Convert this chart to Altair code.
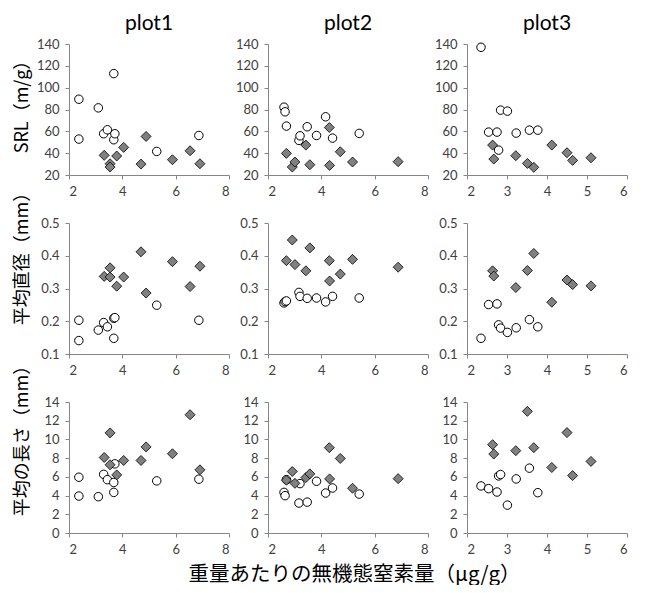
import altair as alt
import pandas as pd

# ---------------- data ----------------
# plot1
p1_open_x = [2.37, 2.37, 3.10, 3.30, 3.44, 3.68, 3.68, 3.72, 5.29, 6.87]
p1_open_srl = [89.4, 52.9, 81.5, 57.8, 61.4, 112.9, 52.3, 57.8, 41.6, 56.2]
p1_open_diam = [0.203, 0.141, 0.173, 0.196, 0.183, 0.209, 0.148, 0.211, 0.249, 0.203]
p1_open_len = [5.96, 3.95, 3.88, 6.27, 5.70, 5.40, 4.34, 7.39, 5.57, 5.75]
p1_fill_x = [3.32, 3.54, 3.54, 3.79, 4.05, 4.70, 4.89, 5.88, 6.54, 6.91]
p1_fill_srl = [38.0, 30.3, 27.3, 37.4, 45.3, 30.0, 55.3, 34.0, 42.2, 30.3]
p1_fill_diam = [0.337, 0.363, 0.335, 0.307, 0.335, 0.412, 0.286, 0.382, 0.306, 0.368]
p1_fill_len = [8.07, 10.70, 7.29, 6.21, 7.75, 7.75, 9.20, 8.47, 12.64, 6.75]

# plot2
p2_open_x = [2.60, 2.64, 2.69, 3.16, 3.20, 3.47, 3.82, 4.16, 4.42, 5.42]
p2_open_srl = [82.1, 77.9, 64.8, 51.7, 55.9, 64.2, 56.2, 73.3, 53.8, 58.1]
p2_open_diam = [0.256, 0.260, 0.262, 0.288, 0.276, 0.270, 0.271, 0.259, 0.276, 0.271]
p2_open_len = [4.34, 3.99, 5.70, 3.20, 5.28, 3.30, 5.53, 4.27, 4.81, 4.16]
p2_fill_x = [2.69, 2.91, 3.01, 3.42, 3.57, 4.30, 4.31, 4.71, 5.17, 6.88]
p2_fill_srl = [39.8, 27.3, 31.9, 47.4, 29.4, 63.5, 28.8, 41.3, 31.9, 32.2]
p2_fill_diam = [0.385, 0.448, 0.373, 0.354, 0.424, 0.385, 0.323, 0.344, 0.389, 0.365]
p2_fill_len = [5.64, 6.57, 5.31, 5.92, 6.32, 9.12, 5.78, 7.97, 4.78, 5.81]

# plot3
p3_open_x = [2.35, 2.54, 2.75, 2.79, 2.84, 3.01, 3.23, 3.56, 3.77]
p3_open_srl = [137.0, 59.3, 59.3, 42.8, 79.4, 78.5, 58.4, 61.1, 61.1]
p3_open_diam = [0.148, 0.251, 0.253, 0.189, 0.179, 0.166, 0.180, 0.205, 0.183]
p3_open_len = [5.03, 4.74, 4.38, 6.10, 6.25, 2.98, 5.78, 6.93, 4.31]
p3_fill_x = [2.64, 2.67, 3.22, 3.51, 3.67, 4.12, 4.50, 4.64, 5.10]
p3_fill_srl = [47.4, 34.6, 37.7, 30.6, 27.0, 47.4, 40.4, 33.4, 35.8]
p3_fill_diam = [0.354, 0.338, 0.303, 0.355, 0.407, 0.258, 0.326, 0.312, 0.308]
p3_fill_len = [9.44, 8.44, 8.80, 13.00, 9.12, 7.00, 10.73, 6.14, 7.65]

col_titles = ["plot1", "plot2", "plot3"]
row_titles = ["SRL（m/g）", "平均直径（mm）", "平均の長さ（mm）"]
x_title = "重量あたりの無機態窒素量（μg/g）"

x_domains = [[2, 8], [2, 8], [2, 6]]
x_ticks = [[2, 4, 6, 8], [2, 4, 6, 8], [2, 3, 4, 5, 6]]
y_domains = [[20, 140], [0.1, 0.5], [0, 14]]
y_ticks = [[20, 40, 60, 80, 100, 120, 140], [0.1, 0.2, 0.3, 0.4, 0.5],
           [0, 2, 4, 6, 8, 10, 12, 14]]
y_formats = ["d", ".1f", "d"]
row_title_y = [58, 31, 34]

panels_data = [
    (p1_open_x, [p1_open_srl, p1_open_diam, p1_open_len],
     p1_fill_x, [p1_fill_srl, p1_fill_diam, p1_fill_len]),
    (p2_open_x, [p2_open_srl, p2_open_diam, p2_open_len],
     p2_fill_x, [p2_fill_srl, p2_fill_diam, p2_fill_len]),
    (p3_open_x, [p3_open_srl, p3_open_diam, p3_open_len],
     p3_fill_x, [p3_fill_srl, p3_fill_diam, p3_fill_len]),
]

CJK = "Noto Sans CJK JP"
LAB = "Lato"

charts = []
for r in range(3):
    for c in range(3):
        ox, oys, fx, fys = panels_data[c]
        df = pd.concat([
            pd.DataFrame({"x": ox, "y": oys[r], "g": "open"}),
            pd.DataFrame({"x": fx, "y": fys[r], "g": "fill"}),
        ], ignore_index=True)

        xaxis_kw = dict(values=x_ticks[c], format="d", grid=False)
        if r == 2 and c == 1:
            xaxis_kw.update(title=x_title, titleFont=CJK, titleFontSize=20.5,
                            titleFontWeight="normal", titleColor="#000000",
                            titlePadding=8, titleLimit=1000, titleX=86)
        else:
            xaxis_kw.update(title=None)
        yaxis_kw = dict(values=y_ticks[r], format=y_formats[r], grid=False)
        if c == 0:
            yaxis_kw.update(title=row_titles[r], titleFont=CJK, titleFontSize=18,
                            titleFontWeight="normal", titleColor="#000000",
                            titleX=-38, titleY=row_title_y[r], titleAngle=270,
                            titleAlign="center", titleBaseline="bottom",
                            titleLimit=1000)
        else:
            yaxis_kw.update(title=None)

        base = alt.Chart(df).encode(
            x=alt.X("x:Q", scale=alt.Scale(domain=x_domains[c], nice=False, zero=False),
                    axis=alt.Axis(**xaxis_kw)),
            y=alt.Y("y:Q", scale=alt.Scale(domain=y_domains[r], nice=False, zero=False),
                    axis=alt.Axis(**yaxis_kw)),
        )
        circ = base.transform_filter(alt.datum.g == "open").mark_point(
            shape="circle", filled=True, fill="#ffffff", stroke="#000000",
            strokeWidth=1, size=72, opacity=1)
        dia = base.transform_filter(alt.datum.g == "fill").mark_point(
            shape="diamond", filled=True, fill="#808080", stroke="#000000",
            strokeWidth=0.8, size=100, opacity=1)
        props = dict(width=160, height=131)
        if r == 0:
            props["title"] = alt.TitleParams(text=col_titles[c], font=LAB, fontSize=21,
                                             fontWeight="normal", color="#000000",
                                             offset=4, anchor="middle")
        charts.append(alt.layer(circ, dia).properties(**props))

chart = alt.concat(*charts, columns=3, spacing={"row": 48, "column": 39},
                   bounds="flush").properties(
    padding={"left": 4, "top": 5, "right": 5, "bottom": 0}
).configure_view(strokeWidth=0).configure_axis(
    domainColor="#868686", tickColor="#868686", tickSize=4,
    labelFont=LAB, labelFontSize=13, labelColor="#404040", labelPadding=6,
    domainWidth=1, tickWidth=1
)

chart.save("out.html", embed_options={"renderer": "svg", "actions": False})
